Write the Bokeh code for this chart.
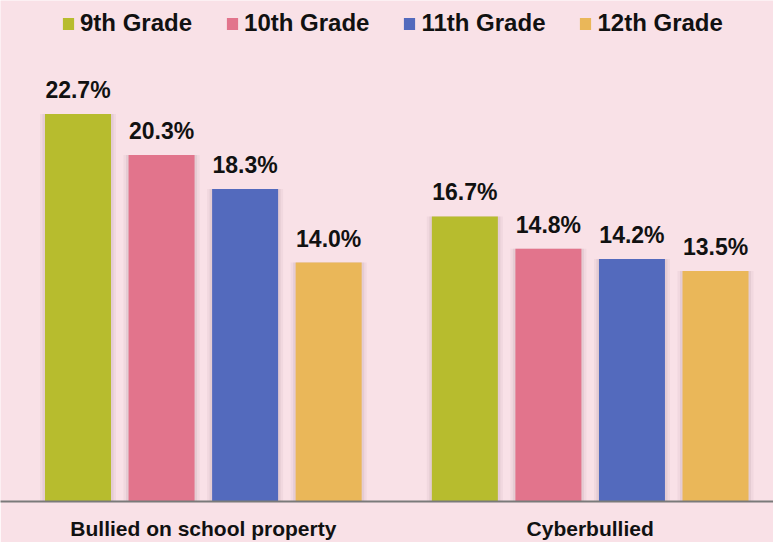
from bokeh.plotting import figure
from bokeh.models import (ColumnDataSource, Range1d, FixedTicker, Legend, LegendItem, LabelSet)
from bokeh.core.properties import value
from bokeh.embed import file_html
from bokeh.resources import INLINE

# ---- data ----
categories = ["Bullied on school property", "Cyberbullied"]
grades = ["9th Grade", "10th Grade", "11th Grade", "12th Grade"]
grade9 = [22.7, 16.7]
grade10 = [20.3, 14.8]
grade11 = [18.3, 14.2]
grade12 = [14.0, 13.5]
series = [grade9, grade10, grade11, grade12]

# ---- style / layout ----
colors = ["#b7bc2e", "#e2748c", "#536abd", "#eab759"]
bg = "#f9e1e7"
group_centers = [0.0, 4.63]
FONT = "Liberation Sans"
BAR_W = 0.79

p = figure(width=773, height=542, output_backend="svg", toolbar_location=None,
           x_range=Range1d(-2.4276, 6.824), y_range=Range1d(0, 29.35),
           min_border_left=0, min_border_right=0, min_border_top=0, min_border_bottom=41)
p.background_fill_color = bg
p.border_fill_color = bg
p.outline_line_color = None
p.grid.visible = False
p.yaxis.visible = False

renderers = []
for i, (name, vals) in enumerate(zip(grades, series)):
    xs = [c + (i - 1.5) for c in group_centers]
    src = ColumnDataSource(dict(x=xs, top=vals,
                                lab=[f"{v:.1f}%" for v in vals]))
    # soft shadow
    p.vbar(x="x", top="top", bottom=0, width=BAR_W + 0.12, source=src,
           fill_color="#5a4048", fill_alpha=0.05, line_color=None)
    p.vbar(x="x", top="top", bottom=0, width=BAR_W + 0.06, source=src,
           fill_color="#5a4048", fill_alpha=0.08, line_color=None)
    r = p.vbar(x="x", top="top", bottom=0, width=BAR_W, source=src,
               fill_color=colors[i], line_color=None)
    renderers.append(r)
    labels = LabelSet(x="x", y="top", text="lab", source=src, y_offset=16,
                      text_align="center", text_baseline="alphabetic",
                      text_font=value(FONT), text_font_style="bold", text_font_size="23px",
                      text_color="#111111")
    p.add_layout(labels)

# x axis with category labels
ax = p.xaxis[0]
ax.ticker = FixedTicker(ticks=group_centers)
ax.major_label_overrides = {c: n for c, n in zip(group_centers, categories)}
ax.axis_line_color = "#7a7a7a"
ax.axis_line_width = 2
ax.major_tick_line_color = None
ax.minor_tick_line_color = None
ax.major_tick_out = 0
ax.major_tick_in = 0
ax.major_label_standoff = 15
ax.major_label_text_font = FONT
ax.major_label_text_font_style = "bold"
ax.major_label_text_font_size = "21px"
ax.major_label_text_color = "#111111"

legend = Legend(items=[LegendItem(label=g, renderers=[r]) for g, r in zip(grades, renderers)],
                orientation="horizontal", location=(61, 464),
                glyph_width=14, glyph_height=15, label_standoff=5, spacing=33,
                padding=0, margin=0, border_line_alpha=0, background_fill_alpha=0,
                label_text_font=FONT, label_text_font_style="bold",
                label_text_font_size="24px", label_height=24, label_text_color="#111111")
p.add_layout(legend, "center")

open("out.html", "w").write(file_html(p, INLINE))
